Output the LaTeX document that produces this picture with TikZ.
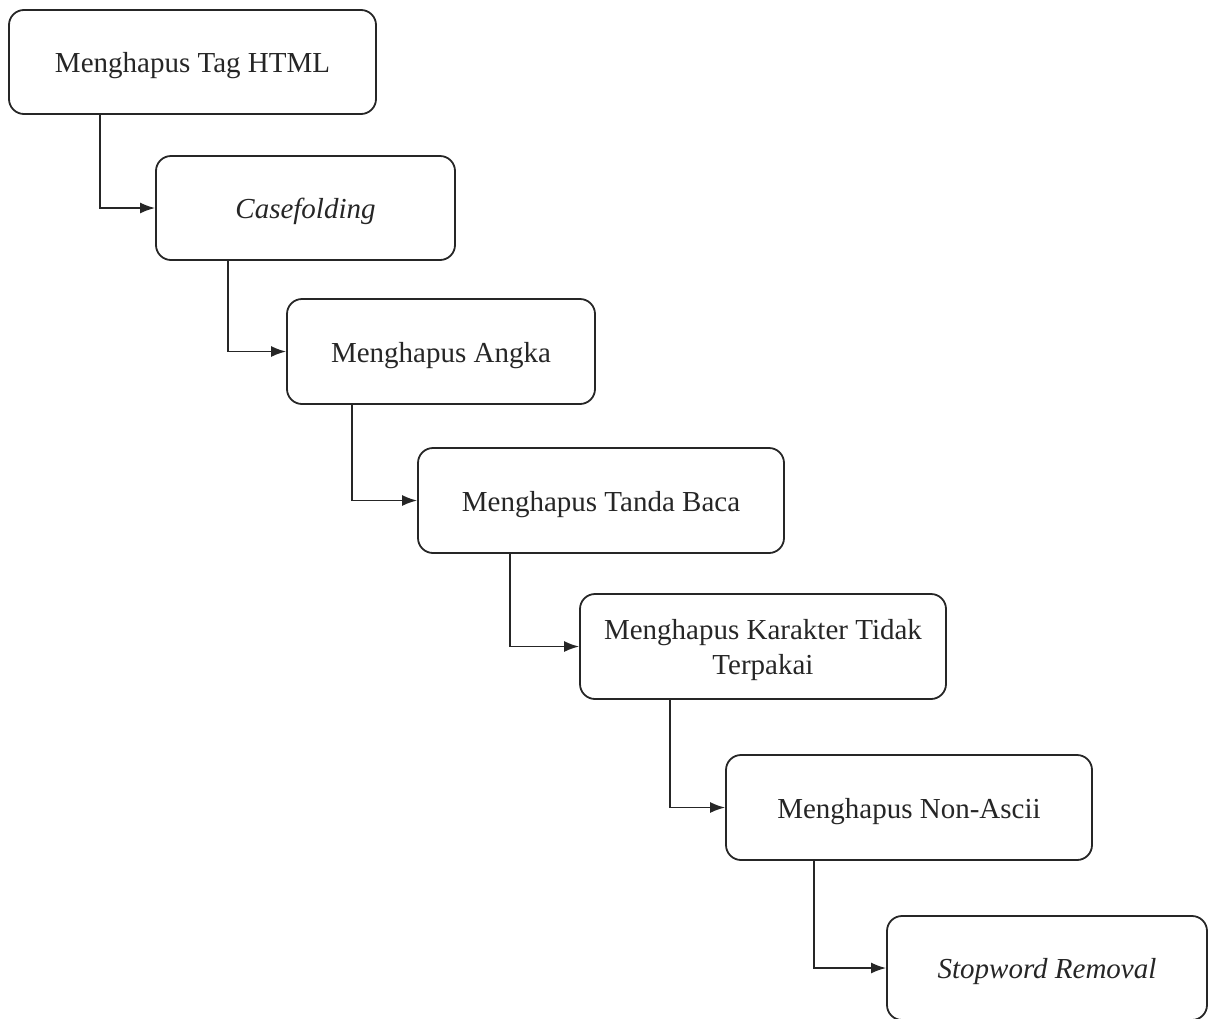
\documentclass[tikz,border=0pt]{standalone}
\usepackage{fontspec}
\setmainfont{Liberation Serif}
\usetikzlibrary{arrows.meta,calc}

% sets a label a little below the optical centre of its box
\newcommand{\steptext}[1]{\raisebox{-3.5pt}[\height][\depth]{\begin{tabular}{@{}c@{}}#1\end{tabular}}}

\tikzset{
  stepbox/.style={draw=black!85, line width=1.8pt, rounded corners=15pt,
    inner sep=0pt, align=center, text=black!85,
    font=\fontsize{29}{35}\selectfont},
  flow/.style={draw=black!85, line width=1.7pt,
    -{Latex[length=15pt,width=11pt]}}
}

\begin{document}
\begin{tikzpicture}[x=1pt,y=-1pt]
  \useasboundingbox (0,0) rectangle (1208,1018);

  % processing steps
  \node[stepbox, minimum width=367pt, minimum height=104pt] (b1) at (192.5,62)  {\steptext{Menghapus Tag HTML}};
  \node[stepbox, minimum width=299pt, minimum height=104pt] (b2) at (305.5,208) {\steptext{\itshape Casefolding}};
  \node[stepbox, minimum width=308pt, minimum height=105pt] (b3) at (441,351.5)  {\steptext{Menghapus Angka}};
  \node[stepbox, minimum width=366pt, minimum height=105pt] (b4) at (601,500.5)  {\steptext{Menghapus Tanda Baca}};
  \node[stepbox, minimum width=366pt, minimum height=105pt] (b5) at (763,646.5)  {\steptext{Menghapus Karakter Tidak\\Terpakai}};
  \node[stepbox, minimum width=366pt, minimum height=105pt] (b6) at (909,807.5)  {\steptext{Menghapus Non-Ascii}};
  \node[stepbox, minimum width=320pt, minimum height=104pt] (b7) at (1047,968)   {\steptext{\itshape Stopword Removal}};

  % elbow connectors between consecutive steps
  \draw[flow] ($(b1.south west)+(92,0)$) |- (b2.west);
  \draw[flow] ($(b2.south west)+(73,0)$) |- (b3.west);
  \draw[flow] ($(b3.south west)+(66,0)$) |- (b4.west);
  \draw[flow] ($(b4.south west)+(93,0)$) |- (b5.west);
  \draw[flow] ($(b5.south west)+(91,0)$) |- (b6.west);
  \draw[flow] ($(b6.south west)+(89,0)$) |- (b7.west);
\end{tikzpicture}
\end{document}
